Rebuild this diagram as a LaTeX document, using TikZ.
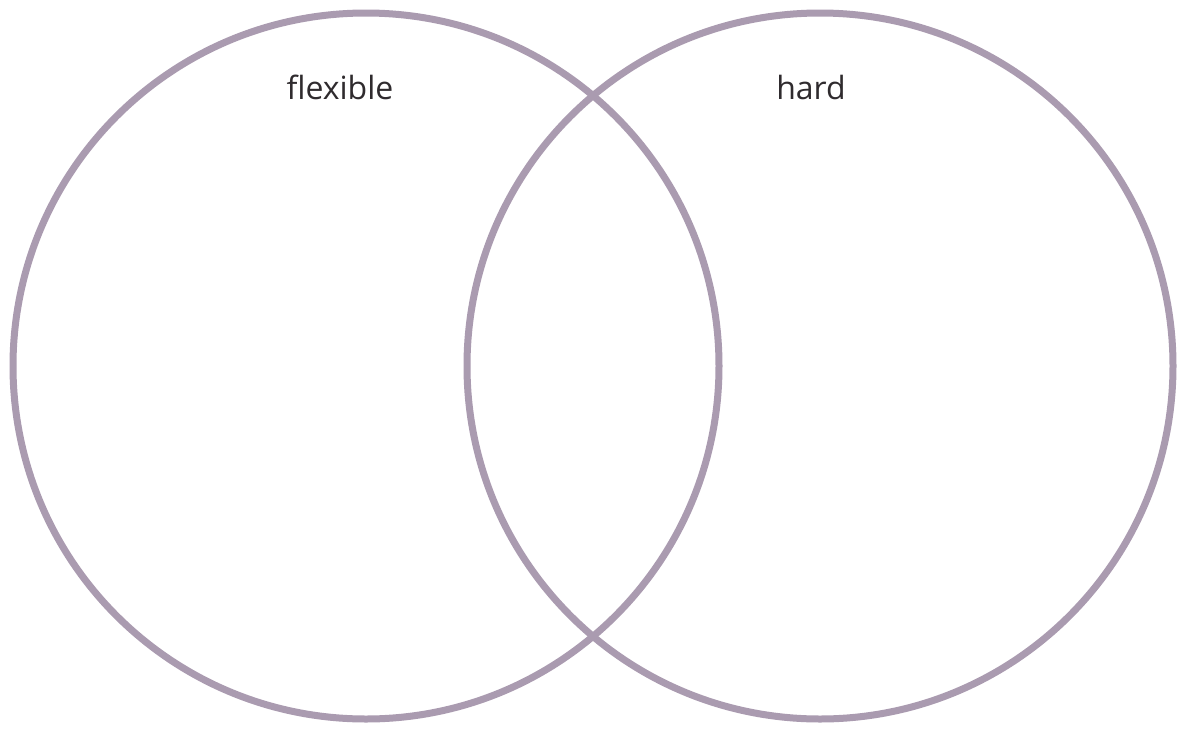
\documentclass[tikz,border=0pt]{standalone}
\usepackage{fontspec}
\setmainfont{Open Sans}
\usepackage{tikz}
\usetikzlibrary{positioning}
\usepackage{xcolor}
\definecolor{Mauve}{HTML}{AA9BB0}
\definecolor{Ink}{HTML}{2F2B2E}

\begin{document}
\begin{tikzpicture}[x=1pt,y=1pt, every node/.style={align=center}]
\fill[white] (0,0) rectangle (1179,-729);
\useasboundingbox (0,0) rectangle (1179,-729);
\node[draw=Mauve,line width=7pt,circle,inner sep=0pt,minimum size=706pt] (flex) at (366,-366) {};
\node[draw=Mauve,line width=7pt,circle,inner sep=0pt,minimum size=706pt] (hard) at (820,-366) {};
\node[font=\fontsize{32}{36}\selectfont,text=Ink,anchor=base] (flexlabel) at ([xshift=-26pt,yshift=-90pt]flex.north) {flexible};
\node[font=\fontsize{32}{36}\selectfont,text=Ink,anchor=base] (hardlabel) at ([xshift=-9pt,yshift=-90pt]hard.north) {hard};
\end{tikzpicture}
\end{document}
